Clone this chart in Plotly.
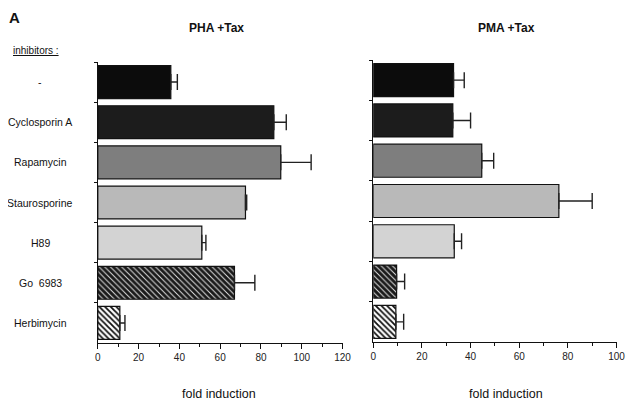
import plotly.graph_objects as go

categories = ["-", "Cyclosporin A", "Rapamycin", "Staurosporine", "H89", "Go  6983", "Herbimycin"]
pha_values = [35.8, 86.3, 89.7, 72.4, 51.0, 67.0, 10.8]
pha_err_top = [39.0, 92.4, 104.6, 73.0, 53.0, 77.0, 13.3]
pma_values = [33.0, 32.7, 44.6, 76.3, 33.3, 9.6, 9.3]
pma_err_top = [37.4, 40.0, 49.5, 90.0, 36.3, 12.9, 12.5]
pha_ticks = [0, 20, 40, 60, 80, 100, 120]
pma_ticks = [0, 20, 40, 60, 80, 100]

fill_colors = ["#0c0c0c", "#1c1c1c", "#7e7e7e", "#b9b9b9", "#d3d3d3", "#1a1a1a", "#ffffff"]
pattern_shapes = ["", "", "", "", "", "\\", "\\"]
pattern_fg = ["#000", "#000", "#000", "#000", "#000", "#e0e0e0", "#111111"]
pattern_solidity = [0, 0, 0, 0, 0, 0.25, 0.45]

OFF = 8  # page body margin
W, H = 637 - OFF, 403 - OFF
def px_x(p):
    return (p - OFF) / W
def px_y(p):
    return 1 - (p - OFF) / H

fig = go.Figure()

def add_panel(vals, tops, xa, ya):
    for i, c in enumerate(categories):
        marker = dict(color=fill_colors[i], line=dict(color="#111", width=1.2))
        if pattern_shapes[i]:
            marker["pattern"] = dict(shape=pattern_shapes[i], fgcolor=pattern_fg[i],
                                     bgcolor=fill_colors[i], size=4,
                                     solidity=pattern_solidity[i], fillmode="replace")
        fig.add_trace(go.Bar(
            y=[c], x=[vals[i]], orientation="h",
            xaxis=xa, yaxis=ya, marker=marker,
            error_x=dict(type="data", symmetric=False, array=[tops[i] - vals[i]],
                         arrayminus=[0], color="#222", thickness=1.4, width=8),
            showlegend=False,
        ))

add_panel(pha_values, pha_err_top, "x", "y")
add_panel(pma_values, pma_err_top, "x2", "y2")

y_top, y_bot = 62, 343
common_x = dict(showline=True, linecolor="#111", linewidth=1.3, ticks="outside",
                ticklen=5, tickcolor="#111", showgrid=False, zeroline=False,
                tickfont=dict(family="Liberation Sans, Arial", size=10, color="#222"),
                minor=dict(dtick=10, ticks="outside", ticklen=3, tickcolor="#111"),
                fixedrange=True)
common_y = dict(type="category", categoryorder="array",
                categoryarray=categories, autorange="reversed",
                showline=True, linecolor="#111", linewidth=1.3,
                ticks="outside", ticklen=3, tickcolor="#111",
                tickson="boundaries", showticklabels=False, showgrid=False,
                zeroline=False)

fig.update_layout(
    width=W, height=H,
    margin=dict(l=0, r=0, t=0, b=0),
    paper_bgcolor="white", plot_bgcolor="white",
    barmode="overlay",
    bargap=0.18,
    xaxis=dict(domain=[px_x(96.5), px_x(346)], range=[0, 120],
               tickvals=pha_ticks, anchor="y", **common_x),
    yaxis=dict(domain=[px_y(y_bot), px_y(y_top)], anchor="x", **common_y),
    xaxis2=dict(domain=[px_x(377.3), px_x(625.3)], range=[0, 100],
                tickvals=pma_ticks, anchor="y2", **common_x),
    yaxis2=dict(domain=[px_y(y_bot - 1), px_y(y_top - 2)], anchor="x2", **common_y),
    font=dict(family="Liberation Sans, Arial", color="#111"),
)

for c in categories:
    fig.add_annotation(x=px_x(38), xref="paper", y=c, yref="y",
                       text=c, showarrow=False,
                       font=dict(size=10.5, family="Liberation Sans, Arial", color="#111"),
                       xanchor="center", yanchor="middle")

texts = [
    dict(x=217, y=28, text="<b>PHA +Tax</b>", size=12, yanchor="middle"),
    dict(x=513, y=28, text="<b>PMA +Tax</b>", size=12, yanchor="middle"),
    dict(x=12, y=8, text="<b>A</b>", size=15, yanchor="top"),
    dict(x=33, y=50, text="<u>inhibitors :</u>", size=10, yanchor="middle"),
    dict(x=220, y=394, text="fold induction", size=12.5, yanchor="middle"),
    dict(x=513, y=394, text="fold induction", size=12.5, yanchor="middle"),
]
for t in texts:
    fig.add_annotation(x=px_x(t["x"]), y=px_y(t["y"]), xref="paper", yref="paper",
                       text=t["text"], showarrow=False, xanchor="center", yanchor=t["yanchor"],
                       borderpad=0,
                       font=dict(size=t["size"], family="Liberation Sans, Arial", color="#111"))

fig.write_html("out.html")
